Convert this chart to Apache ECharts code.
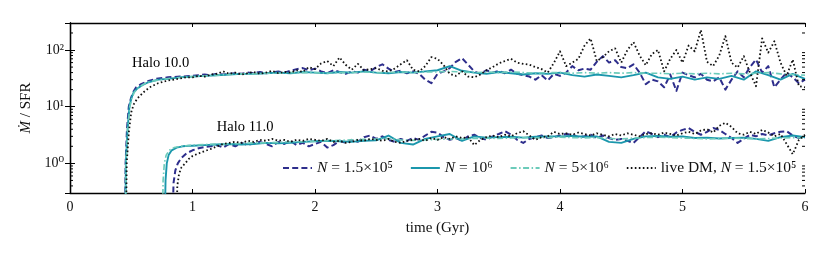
<!DOCTYPE html>
<html><head><meta charset="utf-8">
<script src="https://cdn.jsdelivr.net/npm/echarts@6/dist/echarts.min.js"></script>
<style>html,body{margin:0;padding:0;background:#fff}#c{width:830px;height:256px}</style>
</head><body><div id="c"></div>
<script>
// ---------- DATA ----------
const xTicks = [0,1,2,3,4,5,6];
const yTickLabels = {1:'10⁰', 10:'10¹', 100:'10²'};
const minorTickValues = [0.4,0.5,0.6,0.7,0.8,0.9,2,3,4,5,6,7,8,9,20,30,40,50,60,70,80,90,200];

const legendNames = ['n15','n1e6','n5e6','live'];
const legendLabels = {
  n15: '{i|N} = 1.5×10⁵',
  n1e6: '{i|N} = 10⁶',
  n5e6: '{i|N} = 5×10⁶',
  live: 'live DM, {i|N} = 1.5×10⁵'
};

// time grids (Gyr)
const tFine = [1.00,1.05,1.10,1.15,1.20,1.25,1.30,1.35,1.40,1.45,1.50,1.55,1.60,1.65,1.70,1.75,1.80,1.85,1.90,1.95,2.00,
2.05,2.10,2.15,2.20,2.25,2.30,2.35,2.40,2.45,2.50,2.55,2.60,2.65,2.70,2.75,2.80,2.85,2.90,2.95,3.00,
3.05,3.10,3.15,3.20,3.25,3.30,3.35,3.40,3.45,3.50,3.55,3.60,3.65,3.70,3.75,3.80,3.85,3.90,3.95,4.00,
4.05,4.10,4.15,4.20,4.25,4.30,4.35,4.40,4.45,4.50,4.55,4.60,4.65,4.70,4.75,4.80,4.85,4.90,4.95,5.00,
5.05,5.10,5.15,5.20,5.25,5.30,5.35,5.40,5.45,5.50,5.55,5.60,5.65,5.70,5.75,5.80,5.85,5.90,5.95,6.00];
const tCoarse = [1.0,1.1,1.2,1.3,1.4,1.5,1.6,1.7,1.8,1.9,2.0,2.1,2.2,2.3,2.4,2.5,2.6,2.7,2.8,2.9,3.0,
3.1,3.2,3.3,3.4,3.5,3.6,3.7,3.8,3.9,4.0,4.1,4.2,4.3,4.4,4.5,4.6,4.7,4.8,4.9,5.0,
5.1,5.2,5.3,5.4,5.5,5.6,5.7,5.8,5.9,6.0];

// ---- Halo 10.0 ----
const h10_dash_riseT = [0.450,0.454,0.465,0.480,0.497,0.515,0.540,0.580,0.630,0.700,0.800,0.900];
const h10_dash_riseV = [0.1,1,4,10,14,18,22,25,28,31,33,34];
const h10_dash = [35,36,37,36,38,37,38,39,38,40,39,41,39,40,42,40,43,46,48,44,47,
42,39,44,41,38,42,40,45,42,50,56,47,41,43,39,42,38,30,26,38,
42,48,62,72,55,42,38,44,40,43,39,45,38,36,34,30,36,29,38,35,
40,52,44,47,45,62,78,60,66,50,48,56,40,25,30,28,22,37,19,40,
36,33,38,30,28,33,20,30,42,33,50,68,40,52,22,30,40,33,26,30];

const h10_solid_riseT = [0.452,0.456,0.470,0.485,0.500,0.520,0.550,0.590,0.640,0.720,0.800,0.900];
const h10_solid_riseV = [0.1,1,4,10,14,18,21,24,27,30,31,33];
const h10_solid = [34,35,36,37,38,38,39,40,39,41,40,39,41,40,42,40,39,41,40,42,44,
52,43,40,38,41,39,37,39,38,40,36,34,37,35,33,36,40,33,31,34,
30,33,31,35,30,42,36,30,38,31];

const h10_dd_riseT = [0.453,0.458,0.472,0.488,0.505,0.525,0.555,0.600,0.660,0.740,0.830,0.920];
const h10_dd_riseV = [0.1,1,4,10,14,18,21,25,28,30,32,33];
const h10_dd = [34,35,36,37,38,38,39,39,40,40,40,39,40,40,41,40,40,41,40,41,41,
42,41,40,41,40,41,40,39,40,40,39,40,39,40,39,40,39,39,38,39,
38,39,38,39,38,39,40,38,37,36];

const h10_live_riseT = [0.458,0.463,0.480,0.500,0.520,0.550,0.600,0.650,0.720,0.800,0.880,0.950];
const h10_live_riseV = [0.1,1,3.5,8,11,14,18,22,26,29,31,33];
const h10_live = [33,35,34,37,38,42,38,40,37,39,41,38,40,43,39,41,40,44,41,50,46,
58,64,52,74,55,45,57,44,46,48,43,42,47,56,66,45,42,52,75,70,
54,38,35,42,34,33,37,44,50,58,64,70,60,57,55,50,46,40,59,95,
52,60,70,120,160,64,75,95,107,60,100,138,80,54,85,100,42,70,100,60,
120,95,225,62,52,80,176,60,49,78,40,23,160,90,143,60,35,68,23,22];

// ---- Halo 11.0 ----
const h11_dash_riseT = [0.838,0.845,0.860,0.880,0.910,0.950];
const h11_dash_riseV = [0.1,0.45,0.75,1.0,1.25,1.5];
const h11_dash = [1.7,1.85,1.95,2.0,2.1,1.9,2.2,2.0,2.3,2.1,2.25,2.4,2.2,2.0,2.4,2.2,2.5,2.1,2.3,2.0,2.2,
2.4,1.9,2.1,2.5,2.3,2.6,2.4,2.9,3.1,2.7,3.0,2.6,2.4,2.7,2.5,2.8,2.6,3.1,3.6,3.5,
2.9,2.6,2.8,2.5,3.0,3.2,2.8,2.6,3.0,3.3,3.7,3.2,2.6,2.3,2.7,2.9,3.1,2.8,2.9,3.1,
3.3,3.2,2.9,3.0,3.2,2.8,3.1,2.8,2.6,2.7,2.5,2.3,2.9,3.7,3.3,2.9,3.2,2.9,3.5,3.9,
4.2,3.6,3.2,3.6,4.2,3.9,3.3,2.8,2.3,2.7,3.2,3.0,3.3,3.1,3.4,3.6,3.7,3.1,2.8,2.9];

const h11_solid_riseT = [0.774,0.780,0.790,0.805,0.830,0.870,0.920,0.970];
const h11_solid_riseV = [0.1,0.5,1.0,1.4,1.7,1.9,2.0,2.05];
const h11_solid = [2.05,2.1,2.15,2.2,2.15,2.2,2.3,2.25,2.3,2.4,2.45,2.5,2.45,2.4,2.5,2.55,3.1,2.3,2.15,2.7,3.0,
3.3,2.5,3.0,2.85,2.9,2.95,2.85,2.95,3.0,3.0,3.05,2.95,3.0,2.4,2.3,2.7,3.0,3.05,2.95,3.0,
2.8,2.85,2.75,2.8,2.85,2.7,2.5,2.9,3.1,2.9];

const h11_dd_riseT = [0.755,0.760,0.770,0.785,0.810,0.850,0.900,0.950];
const h11_dd_riseV = [0.1,0.5,1.0,1.4,1.7,1.9,2.0,2.05];
const h11_dd = [2.1,2.15,2.2,2.2,2.25,2.3,2.3,2.35,2.4,2.4,2.45,2.5,2.55,2.6,2.65,2.7,2.75,2.6,2.55,2.6,2.65,
2.7,2.7,2.75,2.8,2.75,2.8,2.85,2.8,2.85,2.9,2.85,2.8,2.85,2.75,2.7,2.8,2.85,2.9,2.85,2.8,
2.75,2.7,2.75,2.8,2.75,2.7,2.75,2.8,2.85,2.8];

const h11_live_riseT = [0.870,0.876,0.890,0.910,0.940,0.970];
const h11_live_riseV = [0.1,0.4,0.65,0.85,1.0,1.2];
const h11_live = [1.35,1.5,1.65,1.8,2.0,2.2,2.3,2.4,2.3,2.5,2.4,2.6,2.5,2.7,2.5,2.6,2.4,2.6,2.5,2.7,2.6,
2.5,2.7,2.4,2.5,2.3,2.4,2.6,2.5,2.7,2.6,2.5,2.7,2.4,2.3,2.5,2.6,2.7,2.5,2.8,2.6,
2.9,2.7,3.0,2.8,2.9,2.1,2.6,2.9,3.1,2.9,3.2,3.0,3.4,3.7,3.1,2.6,2.9,3.0,3.6,3.3,
3.4,3.2,3.5,3.3,3.1,3.4,3.2,3.0,3.3,3.1,3.4,3.2,3.0,3.3,3.4,3.2,3.5,3.3,3.1,3.4,
3.6,3.3,3.8,4.0,3.5,4.6,5.2,4.4,3.4,3.2,3.6,3.3,3.9,3.5,3.0,3.3,2.2,1.45,2.6,3.2];

const annotations = [
  {text:'Halo 10.0', t:0.74, v:58},
  {text:'Halo 11.0', t:1.43, v:4.3}
];

// ---------- BUILD ----------
function pairs(tr, vr, tg, vg){
  const out = [];
  for (let i=0;i<tr.length;i++) out.push([tr[i], vr[i]]);
  for (let i=0;i<vg.length;i++) out.push([tg[i], vg[i]]);
  return out;
}
const FONT = '"Liberation Serif","DejaVu Serif",serif';
const styles = {
  n15:  {color:'#2e2e8c', width:2.0, type:[6,3.2]},
  n1e6: {color:'#1b97ac', width:1.9, type:'solid'},
  n5e6: {color:'#6ccbba', width:1.6, type:[6,2.5,1.5,2.5]},
  live: {color:'#111111', width:1.8, type:[1.6,2.4]}
};
function lineSeries(key, data){
  const s = styles[key];
  return {
    type:'line', name:key, data:data, symbol:'none', showSymbol:false,
    xAxisIndex:0, yAxisIndex:0, clip:true,
    lineStyle:{color:s.color, width:s.width, type:s.type, cap:'butt', join:'round'},
    itemStyle:{color:s.color}, emphasis:{disabled:true}
  };
}
const series = [
  lineSeries('n15', pairs(h10_dash_riseT,h10_dash_riseV,tFine,h10_dash)),
  lineSeries('n15', pairs(h11_dash_riseT,h11_dash_riseV,tFine,h11_dash)),
  lineSeries('n1e6', pairs(h10_solid_riseT,h10_solid_riseV,tCoarse,h10_solid)),
  lineSeries('n1e6', pairs(h11_solid_riseT,h11_solid_riseV,tCoarse,h11_solid)),
  lineSeries('n5e6', pairs(h10_dd_riseT,h10_dd_riseV,tCoarse,h10_dd)),
  lineSeries('n5e6', pairs(h11_dd_riseT,h11_dd_riseV,tCoarse,h11_dd)),
  lineSeries('live', pairs(h10_live_riseT,h10_live_riseV,tFine,h10_live)),
  lineSeries('live', pairs(h11_live_riseT,h11_live_riseV,tFine,h11_live)),
  {
    type:'scatter', name:'annot', symbolSize:0, itemStyle:{color:'#000', opacity:1},
    data: annotations.map(a=>({value:[a.t,a.v], name:a.text})),
    label:{show:true, position:'inside', formatter:p=>p.name, color:'#000',
      textBorderWidth:0, textBorderColor:'transparent', fontFamily:FONT, fontSize:14.5},
    silent:true, z:10
  },
  {
    type:'custom', name:'minor', xAxisIndex:0, yAxisIndex:0, clip:false, silent:true, z:5,
    data: minorTickValues.map(v=>[0,v]),
    renderItem:function(params, api){
      const v = api.value(1);
      const l = api.coord([0, v]);
      const r = api.coord([6, v]);
      const st = {stroke:'#000', lineWidth:1};
      return {type:'group', children:[
        {type:'line', shape:{x1:l[0], y1:l[1], x2:l[0]+3, y2:l[1]}, style:st},
        {type:'line', shape:{x1:r[0], y1:r[1], x2:r[0]-3, y2:r[1]}, style:st}
      ]};
    }
  }
];

const axisLine = {show:true, lineStyle:{color:'#000', width:1.3}};
const option = {
  animation:false,
  backgroundColor:'#fff',
  textStyle:{fontFamily:FONT},
  grid:{left:70, right:25, top:23, bottom:63, containLabel:false},
  legend:{
    data:legendNames, left:277, top:155, orient:'horizontal',
    itemWidth:29, itemHeight:12, itemGap:17, selectedMode:false,
    itemStyle:{opacity:0},
    formatter:n=>legendLabels[n],
    textStyle:{fontFamily:FONT, fontSize:15.5, color:'#111',
      rich:{i:{fontStyle:'italic', fontFamily:FONT, fontSize:15.5, color:'#111'}}}
  },
  xAxis:[
    {type:'value', min:0, max:6, interval:1, position:'bottom',
     axisLine:axisLine, splitLine:{show:false},
     axisTick:{show:true, inside:true, length:4, lineStyle:{color:'#000', width:1}},
     axisLabel:{show:true, margin:7, color:'#111', fontFamily:FONT, fontSize:14,
       formatter:v=>xTicks.includes(v)?String(v):''},
     name:'time (Gyr)', nameLocation:'middle', nameGap:28,
     nameTextStyle:{fontFamily:FONT, fontSize:15, color:'#111'}},
    {type:'value', min:0, max:6, interval:1, position:'top',
     axisLine:axisLine, splitLine:{show:false},
     axisTick:{show:true, inside:true, length:4, lineStyle:{color:'#000', width:1}},
     axisLabel:{show:false}}
  ],
  yAxis:[
    {type:'log', logBase:10, min:0.3, max:300, position:'left',
     axisLine:axisLine, splitLine:{show:false}, minorTick:{show:false},
     axisTick:{show:true, inside:true, length:5, lineStyle:{color:'#000', width:1}},
     axisLabel:{show:true, margin:6, color:'#111', fontFamily:FONT, fontSize:14,
       formatter:v=>{const k=Math.round(v*1000)/1000; return yTickLabels[k]||'';}},
     name:'{m|Ṁ} / SFR', nameLocation:'middle', nameGap:36, nameRotate:90,
     nameTextStyle:{fontFamily:FONT, fontSize:15, color:'#111',
       rich:{m:{fontStyle:'italic', fontFamily:FONT, fontSize:15, color:'#111'}}}},
    {type:'log', logBase:10, min:0.3, max:300, position:'right',
     axisLine:axisLine, splitLine:{show:false},
     axisTick:{show:true, inside:true, length:5, lineStyle:{color:'#000', width:1}},
     axisLabel:{show:false}}
  ],
  series:series
};
const chart = echarts.init(document.getElementById('c'), null, {renderer:'canvas'});
chart.setOption(option);
</script></body></html>
